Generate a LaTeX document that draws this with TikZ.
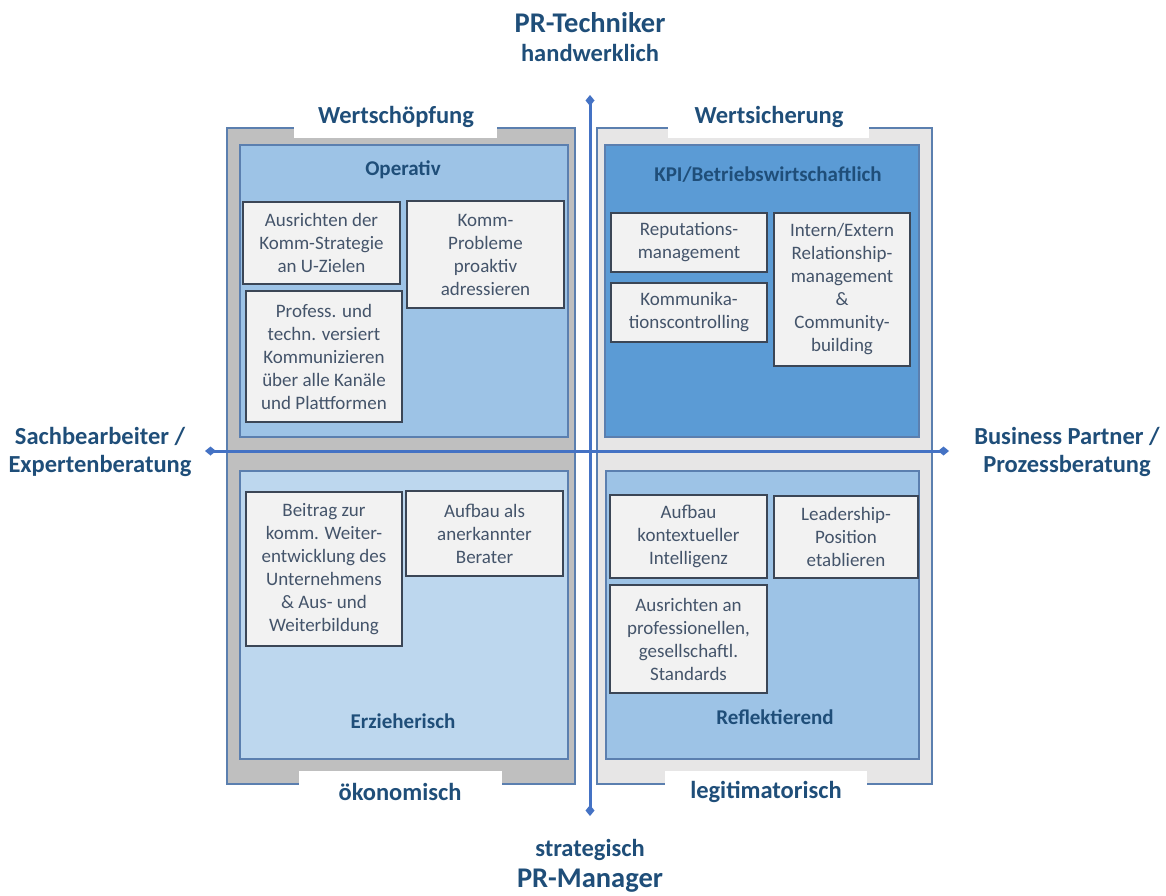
\documentclass[tikz,border=0pt]{standalone}
\usepackage{fontspec}
\setmainfont{Carlito}
\usetikzlibrary{arrows.meta}
\definecolor{ttl}{HTML}{1F4E79}
\definecolor{btxt}{HTML}{44546A}
\definecolor{bbord}{HTML}{3B4656}
\definecolor{bfill}{HTML}{F2F2F2}
\definecolor{grayL}{HTML}{BFBFBF}
\definecolor{grayR}{HTML}{E7E6E6}
\definecolor{blueA}{HTML}{9DC3E6}
\definecolor{blueB}{HTML}{BDD7EE}
\definecolor{blueC}{HTML}{5B9BD5}
\definecolor{edge}{HTML}{5B7FAF}
\definecolor{axis}{HTML}{4472C4}
\tikzset{
  itembox/.style={draw=bbord, line width=2.2pt, fill=bfill, text=btxt, align=center,
    font=\fontsize{19}{23}\selectfont, inner sep=0pt},
  outerbox/.style={draw=edge, line width=1.2pt},
  innerbox/.style={draw=edge, line width=1.2pt},
  title/.style={text=ttl, font=\fontsize{24.5}{28}\bfseries\selectfont, align=center},
  subtitle/.style={text=ttl, font=\fontsize{21}{25}\bfseries\selectfont, align=center},
  bigtitle/.style={text=ttl, font=\fontsize{28.5}{30}\bfseries\selectfont},
  smalltitle/.style={text=ttl, font=\fontsize{24.5}{28}\bfseries\selectfont},
  gap/.style={fill=white, draw=none, inner sep=0pt},
  axisline/.style={draw=axis, line width=3pt, {Diamond[length=11pt,width=9pt]}-{Diamond[length=11pt,width=9pt]}}
}
\begin{document}
\begin{tikzpicture}[x=1pt,y=-1pt]
\useasboundingbox (0,0) rectangle (1166,895);
% outer boxes
\fill[grayL] (227,128) rectangle (575,784);
\draw[outerbox] (227,128) rectangle (575,784);
\fill[grayR] (597,128) rectangle (932,784);
\draw[outerbox] (597,128) rectangle (932,784);
% white gaps
\fill[gap] (294,105) rectangle (497,138);
\fill[gap] (668,105) rectangle (869,138);
\fill[gap] (299,771) rectangle (502,808);
\fill[gap] (665,771) rectangle (867,808);
% inner boxes
\filldraw[innerbox, fill=blueA] (240,145) rectangle (568,437);
\filldraw[innerbox, fill=blueB] (240,471) rectangle (568,759);
\filldraw[innerbox, fill=blueC] (605,145) rectangle (919,437);
\filldraw[innerbox, fill=blueA] (606,471) rectangle (919,759);
% section titles
\node[title] (wsch) at (396,117) {Wertschöpfung};
\node[title] (wsich) at (769,117) {Wertsicherung};
\node[title] (oeko) at (400,792) {ökonomisch};
\node[title] (legit) at (766,792) {legitimatorisch};
\node[subtitle] (oper) at (403,170) {Operativ};
\node[subtitle] (kpi) at (768,175) {KPI/Betriebswirtschaftlich};
\node[subtitle] (erz) at (403,721) {Erzieherisch};
\node[subtitle] (refl) at (775,717) {Reflektierend};
% item boxes
\node[itembox, minimum width=157pt, minimum height=82pt] (b1) at (321.5,243) {Ausrichten der\\Komm-Strategie\\an U-Zielen};
\node[itembox, minimum width=157pt, minimum height=107pt] (b2) at (485.5,254.5) {Komm-\\Probleme\\proaktiv\\adressieren};
\node[itembox, minimum width=156pt, minimum height=131pt] (b3) at (324,356.5) {Profess. und\\techn. versiert\\Kommunizieren\\über alle Kanäle\\und Plattformen};
\node[itembox, minimum width=156pt, minimum height=154pt] (b4) at (324,569) {Beitrag zur\\komm. Weiter-\\entwicklung des\\Unternehmens\\\& Aus- und\\Weiterbildung};
\node[itembox, minimum width=157pt, minimum height=85pt] (b5) at (484.5,533.5) {Aufbau als\\anerkannter\\Berater};
\node[itembox, minimum width=156pt, minimum height=59pt] (r1) at (689,242.5) {Reputations-\\management};
\node[itembox, minimum width=156pt, minimum height=59pt] (r2) at (689,312.5) {Kommunika-\\tionscontrolling};
\node[itembox, minimum width=136pt, minimum height=153pt] (r3) at (842,289.5) {Intern/Extern\\Relationship-\\management\\\&\\Community-\\building};
\node[itembox, minimum width=157pt, minimum height=83pt] (r4) at (688.5,536.5) {Aufbau\\kontextueller\\Intelligenz};
\node[itembox, minimum width=144pt, minimum height=82pt] (r5) at (846,537) {Leadership-\\Position\\etablieren};
\node[itembox, minimum width=157pt, minimum height=108pt] (r6) at (688.5,639) {Ausrichten an\\professionellen,\\gesellschaftl.\\Standards};
% axes
\coordinate (top) at (590,95);
\coordinate (bot) at (590,816);
\coordinate (lft) at (205,451);
\coordinate (rgt) at (949,451);
\draw[axisline] (bot) -- (top);
\draw[axisline] (lft) -- (rgt);
% axis labels
\node[bigtitle] (prt) at (590,23) {PR-Techniker};
\node[smalltitle] (hand) at (590,53) {handwerklich};
\node[smalltitle] (strat) at (590,850) {strategisch};
\node[bigtitle] (prm) at (590,881) {PR-Manager};
\node[title] (sach) at (100,452) {Sachbearbeiter /\\Expertenberatung};
\node[title] (bus) at (1067,452) {Business Partner /\\Prozessberatung};
\end{tikzpicture}
\end{document}
